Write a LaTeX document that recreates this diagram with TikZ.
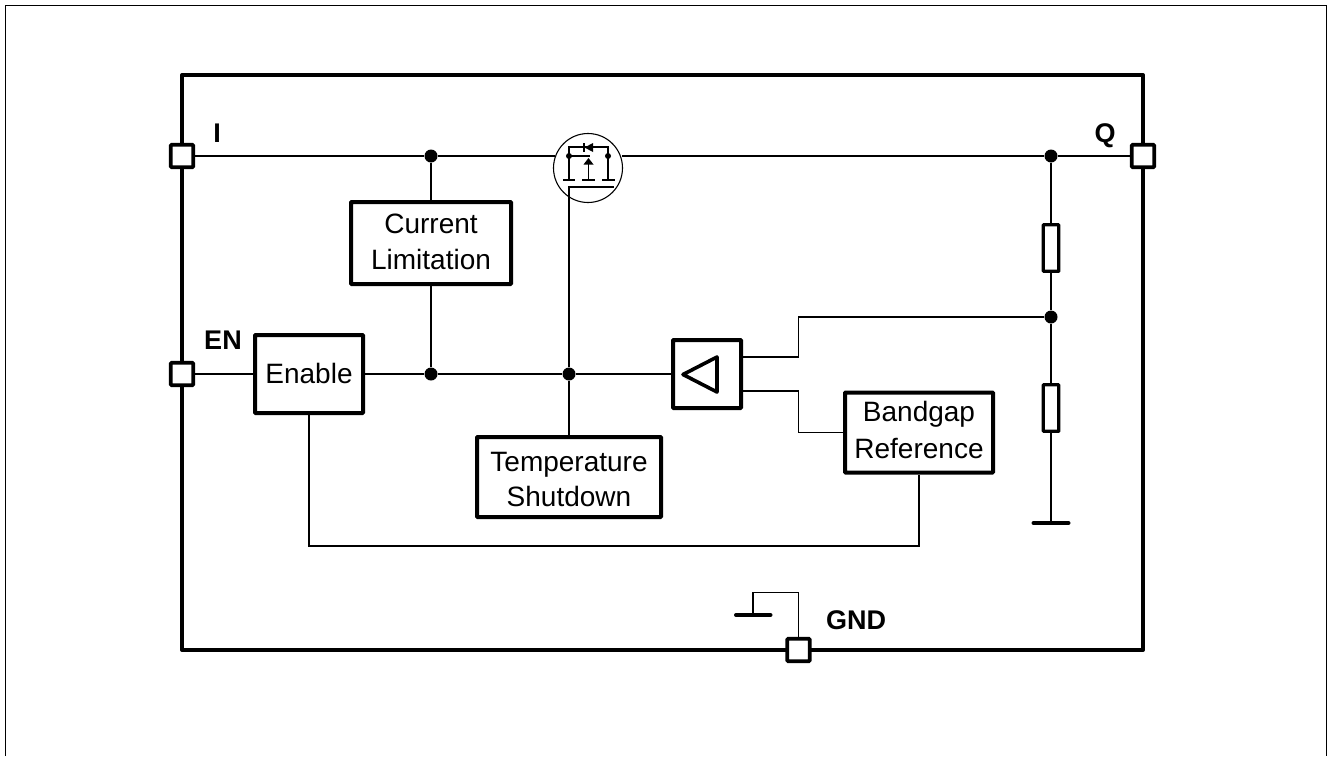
\documentclass[tikz,border=0pt]{standalone}
\usepackage{fontspec}
\setmainfont{Liberation Sans}
\begin{document}
\begin{tikzpicture}[x=1pt,y=-1pt,
  wire/.style={line width=1.05pt,draw=black},
  thin wire/.style={line width=1.05pt,draw=black},
  heavy/.style={line width=4pt,line join=round,draw=black},
  blockbox/.style={draw=black,line width=4pt,rounded corners=0.8pt,fill=white,inner sep=0pt},
  blocktext/.style={align=center,inner sep=0pt,font=\fontsize{28}{35.5}\selectfont},
  pin/.style={draw=black,line width=3.8pt,rounded corners=1pt,fill=white,minimum size=22.5pt,inner sep=0pt},
  dotn/.style={circle,fill=black,inner sep=0pt,minimum size=13pt},
  smalldot/.style={circle,fill=black,inner sep=0pt,minimum size=6pt},
  lab/.style={font=\bfseries\fontsize{27}{30}\selectfont,inner sep=0pt},
  res/.style={draw=black,line width=3.3pt,rounded corners=0.6pt,fill=white,minimum width=15.5pt,minimum height=46.5pt,inner sep=0pt}]
\useasboundingbox (0,0) rectangle (1332,756);
\draw[line width=1.3pt] (5.5,756) -- (5.5,5.5) -- (1326.5,5.5) -- (1326.5,756);
\draw[heavy] (182,75) -- (1143,75) -- (1143,650) -- (182,650) -- cycle;
% pins and labels
\node[pin] (pI) at (182,156) {};
\node[pin] (pQ) at (1143,156) {};
\node[pin] (pEN) at (182,374) {};
\node[pin] (pG) at (798.5,650) {};
\node[lab] at (217,133) {I};
\node[lab] at (1105,136) {Q};
\node[lab] at (223,340) {EN};
\node[lab] at (856,620) {GND};
% junctions and blocks
\node[dotn] (d1) at (431,156) {};
\node[dotn] (d2) at (1051,156) {};
\node[dotn] (d3) at (1051,317) {};
\node[dotn] (d4) at (431,374) {};
\node[dotn] (d5) at (569,374) {};
\coordinate (gnd1) at (1051,523);
\coordinate (gnd2) at (753,615);
\node[circle,draw=black,line width=1.1pt,minimum size=69pt,inner sep=0pt] (fet) at (588,168) {};
\node[blockbox,minimum width=160pt,minimum height=82pt] (cl) at (431,243) {};
\node[blockbox,minimum width=108pt,minimum height=78pt] (en) at (309,374) {};
\node[blockbox,minimum width=184pt,minimum height=80pt] (ts) at (569,477) {};
\node[blockbox,minimum width=148pt,minimum height=80pt] (bg) at (919,432.5) {};
\node[blockbox,minimum width=68pt,minimum height=68pt] (amp) at (707,374) {};
\node[blocktext] (clt) at (431,242) {Current\\Limitation};
\node[blocktext] (ent) at (309,373.5) {Enable};
\node[blocktext] (tst) at (569,479.5) {Temperature\\Shutdown};
\node[blocktext,font=\fontsize{28}{37}\selectfont] (bgt) at (919,430) {Bandgap\\Reference};
\node[res] (r1) at (1051,248) {};
\node[res] (r2) at (1051,408) {};
\coordinate (fetL) at (555,156);
\coordinate (fetR) at (622,156);
\coordinate (gate) at (569,187);
\coordinate (gateR) at (614,187);
\draw[wire] (pI) -- (d1) -- (fetL);
\draw[wire] (fetR) -- (d2) -- (pQ);
\draw[wire] (d1) -- (cl);
\draw[wire] (cl) -- (d4);
\draw[wire] (pEN) -- (en);
\draw[wire] (en) -- (d4) -- (d5) -- (amp);
\draw[wire] (ts) -- (d5) -- (gate) -- (gateR);
\draw[wire] (d2) -- (r1);
\draw[wire] (r1) -- (d3);
\draw[wire] (d3) -- (r2);
\draw[wire] (r2) -- (gnd1);
\draw[wire] (d3) -- (798.5,317) -- (798.5,357) -- (742,357);
\draw[wire] (742,391) -- (798.5,391) -- (798.5,432.5) -- (bg.west |- 0,432.5);
\draw[wire] (en.south) -- (309,546) -- (919,546) -- (bg.south);
\draw[wire] (pG) -- (798.5,592.5) -- (753,592.5) -- (gnd2);
\draw[line width=4pt,line cap=round] (1033.5,523) -- (1068.5,523);
\draw[line width=4pt,line cap=round] (736,615) -- (770.5,615);
% amplifier triangle
\draw[line width=3.6pt,line join=round] (683,374.5) -- (717,357) -- (717,392) -- cycle;
% mosfet
\draw[thin wire] (569,156) -- (569,180);
\draw[thin wire] (608,156) -- (608,180);
\draw[thin wire] (569,156) -- (569,147) -- (608,147) -- (608,156);
\draw[line width=1.5pt] (588.5,162) -- (588.5,180);
\draw[thin wire] (569,156) -- (590,156);
\fill (583.5,164.5) -- (593.5,164.5) -- (588.5,158) -- cycle;
\fill (584.5,147.5) -- (593,143) -- (593,152) -- cycle;
\draw[line width=1.3pt] (584,143) -- (584,152);
\draw[line width=1.6pt] (563,180) -- (575,180) (582,180) -- (595,180) (602,180) -- (615,180);
\node[smalldot] (s1) at (569,156) {};
\node[smalldot] (s2) at (608,156) {};
\end{tikzpicture}
\end{document}
